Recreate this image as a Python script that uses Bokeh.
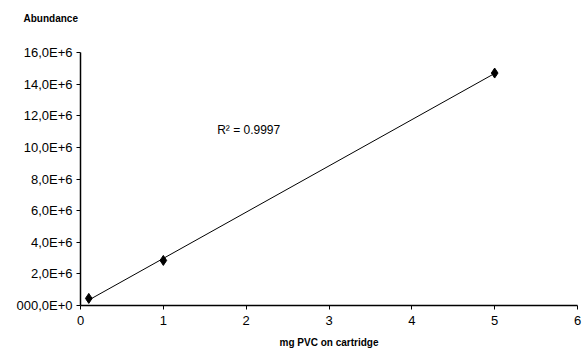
import numpy as np
from bokeh.plotting import figure
from bokeh.models import Label, FixedTicker, Title
from bokeh.embed import file_html
from bokeh.resources import INLINE

# Data
mg_pvc = [0.1, 1.0, 5.0]
abundance = [0.45e6, 2.85e6, 14.7e6]
y_ticks = [0, 2e6, 4e6, 6e6, 8e6, 10e6, 12e6, 14e6, 16e6]
y_tick_labels = ["000,0E+0", "2,0E+6", "4,0E+6", "6,0E+6", "8,0E+6",
                 "10,0E+6", "12,0E+6", "14,0E+6", "16,0E+6"]
x_ticks = [0, 1, 2, 3, 4, 5, 6]
r2_text = "R² = 0.9997"

FONT = "Liberation Sans"

p = figure(width=582, height=356, output_backend="svg", toolbar_location=None,
           x_range=(0, 6), y_range=(0, 16e6),
           min_border_left=80, min_border_right=5, min_border_top=52, min_border_bottom=51)
p.outline_line_color = None
p.grid.visible = False
p.background_fill_color = "white"
p.border_fill_color = "white"

# Linear trendline fitted to the data
slope, intercept = np.polyfit(mg_pvc, abundance, 1)
xs = [min(mg_pvc), max(mg_pvc)]
ys = [slope * x + intercept for x in xs]
p.line(xs, ys, line_color="black", line_width=1)

p.scatter(mg_pvc, abundance, marker="diamond", size=10, color="black")

# Axes
p.xaxis.ticker = FixedTicker(ticks=x_ticks)
p.yaxis.ticker = FixedTicker(ticks=y_ticks)
p.yaxis.major_label_overrides = {t: l for t, l in zip(y_ticks, y_tick_labels)}
for ax in (p.xaxis[0], p.yaxis[0]):
    ax.axis_line_color = "black"
    ax.axis_line_width = 1.5
    ax.major_tick_line_color = "black"
    ax.major_tick_out = 4
    ax.major_tick_in = 0
    ax.minor_tick_out = 0
    ax.minor_tick_in = 0
    ax.major_label_text_font = FONT
    ax.major_label_text_font_size = "13px"
    ax.major_label_text_color = "black"
p.yaxis.major_label_standoff = 4
p.xaxis.major_label_standoff = 6

p.xaxis.axis_label = "mg PVC on cartridge"
p.xaxis.axis_label_text_font = FONT
p.xaxis.axis_label_text_font_style = "bold"
p.xaxis.axis_label_text_font_size = "10px"
p.xaxis.axis_label_text_color = "black"
p.xaxis.axis_label_standoff = 9

# "Abundance" title (outer), with a spacer title between it and the frame
p.title.text = "Abundance"
p.title.align = "left"
p.title.offset = -57
p.title.standoff = 0
p.title.text_font = FONT
p.title.text_font_style = "bold"
p.title.text_font_size = "10px"
p.title.text_color = "black"
p.add_layout(Title(text=" ", text_font_size="1px", standoff=26), "above")

p.add_layout(Label(x=1.65, y=11.1e6, text=r2_text, text_font=FONT,
                   text_font_size="12px", text_color="black",
                   text_baseline="middle", text_align="left"))

open("out.html", "w").write(file_html(p, INLINE))
